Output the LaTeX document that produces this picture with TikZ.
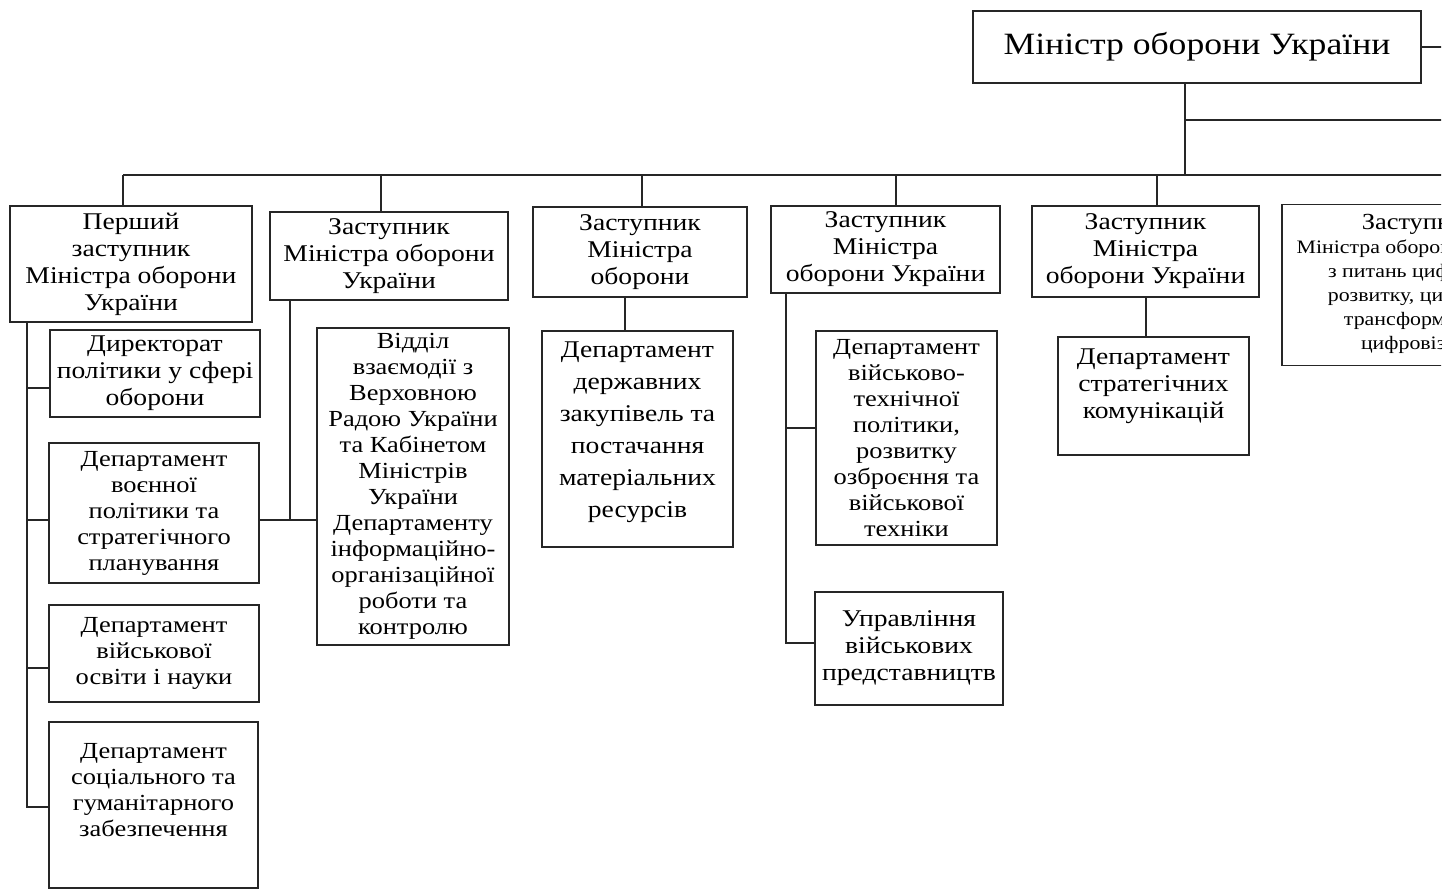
\documentclass[tikz,border=0pt]{standalone}
\usepackage{fontspec}
\setmainfont{Liberation Serif}[FakeStretch=1.15]
\newcommand\bxf{\fontsize{24}{27}\selectfont}
\newcommand\bxtight{\fontsize{23}{26}\selectfont}
\newcommand\bxwide{\fontsize{24}{32}\selectfont}
\newcommand\minf{\fontsize{31}{34}\selectfont}
\newcommand\smf{\fontsize{19}{24}\selectfont}
\begin{document}
\begin{tikzpicture}[x=1pt,y=-1pt,
  box/.style={draw=black!85, line width=1.3pt, inner sep=0pt, align=center, font=\bxf, text=black},
  txt/.style={inner sep=0pt, align=center, font=\bxf, text=black},
  link/.style={draw=black!85, line width=1.3pt}]
\useasboundingbox (0,0) rectangle (1455,890);
\clip (0,0) rectangle (1441,890);

% top level
\node[box, font=\minf, minimum width=448pt, minimum height=72pt] (min) at (1197,47) {Міністр оборони України};

% deputies
\node[box, minimum width=242pt, minimum height=116pt] (b1) at (131,264) {Перший\\заступник\\Міністра оборони\\України};
\node[box, minimum width=238pt, minimum height=88pt] (b2) at (389,256) {Заступник\\Міністра оборони\\України};
\node[box, minimum width=214pt, minimum height=90pt] (b3) at (640,252) {Заступник\\Міністра\\оборони};
\node[box, minimum width=229pt, minimum height=87pt] (b4) at (885.5,249.5) {Заступник\\Міністра\\оборони України};
\node[box, minimum width=227pt, minimum height=91pt] (b5) at (1145.5,251.5) {Заступник\\Міністра\\оборони України};
\node[box, minimum width=278pt, minimum height=161pt] (b6) at (1421,285) {};
\node[txt, font=\smf] (b6t) at (1420,284) {{\fontsize{23}{24}\selectfont Заступник}\\Міністра оборони України\\з питань цифрового\\розвитку, цифрових\\трансформацій і\\цифровізації};

% children of first deputy
\node[box, minimum width=210pt, minimum height=87pt] (c1a) at (155,373.5) {Директорат\\політики у сфері\\оборони};
\node[box, font=\bxtight, minimum width=210pt, minimum height=140pt] (c1b) at (154,513) {Департамент\\воєнної\\політики та\\стратегічного\\планування};
\node[box, font=\bxtight, minimum width=210pt, minimum height=97pt] (c1c) at (154,653.5) {Департамент\\військової\\освіти і науки};
\node[box, minimum width=209pt, minimum height=166pt] (c1d) at (153.5,805) {};
\node[txt, font=\bxtight] (c1dt) at (153.5,790) {Департамент\\соціального та\\гуманітарного\\забезпечення};

% child of second deputy
\node[box, font=\bxtight, minimum width=192pt, minimum height=317pt] (c2) at (413,486.5) {Відділ\\взаємодії з\\Верховною\\Радою України\\та Кабінетом\\Міністрів\\України\\Департаменту\\інформаційно-\\організаційної\\роботи та\\контролю};

% child of third deputy
\node[box, minimum width=191pt, minimum height=216pt] (c3) at (637.5,439) {};
\node[txt, font=\bxwide] (c3t) at (637.5,432) {Департамент\\державних\\закупівель та\\постачання\\матеріальних\\ресурсів};

% children of fourth deputy
\node[box, font=\bxtight, minimum width=181pt, minimum height=214pt] (c4a) at (906.5,438) {Департамент\\військово-\\технічної\\політики,\\розвитку\\озброєння та\\військової\\техніки};
\node[box, minimum width=188pt, minimum height=113pt] (c4b) at (909,648.5) {Управління\\військових\\представництв};

% child of fifth deputy
\node[box, minimum width=191pt, minimum height=118pt] (c5) at (1153.5,396) {};
\node[txt] (c5t) at (1153.5,386) {Департамент\\стратегічних\\комунікацій};

% connectors from the minister
\coordinate (mR) at (1460,47);
\coordinate (mtap) at (1185,175);
\coordinate (br) at (1185,120);
\coordinate (brR) at (1460,120);
\coordinate (busL) at (123,175);
\coordinate (busR) at (1460,175);
\draw[link] (min.east) -- (mR);
\draw[link] (min.south -| mtap) -- (mtap);
\draw[link] (br) -- (brR);
\draw[link] (busL) -- (busR);

% drops to deputies
\coordinate (d2) at (381,175);
\coordinate (d3) at (642,175);
\coordinate (d4) at (896,175);
\coordinate (d5) at (1157,175);
\draw[link] (busL) -- (busL |- b1.north);
\draw[link] (d2) -- (d2 |- b2.north);
\draw[link] (d3) -- (d3 |- b3.north);
\draw[link] (d4) -- (d4 |- b4.north);
\draw[link] (d5) -- (d5 |- b5.north);

% first deputy spine
\coordinate (sp) at (27,807);
\coordinate (t1a) at (27,388);
\coordinate (t1b) at (27,520);
\coordinate (t1c) at (27,668);
\draw[link] (b1.south -| sp) -- (sp) -- (sp -| c1d.west);
\draw[link] (t1a) -- (t1a -| c1a.west);
\draw[link] (t1b) -- (t1b -| c1b.west);
\draw[link] (t1c) -- (t1c -| c1c.west);

% second deputy
\coordinate (v2) at (290,520);
\draw[link] (b2.south -| v2) -- (v2);
\draw[link] (c1b.east |- v2) -- (c2.west |- v2);

% third deputy
\coordinate (v3) at (625,300);
\draw[link] (b3.south -| v3) -- (c3.north -| v3);

% fourth deputy
\coordinate (v4) at (786,643);
\coordinate (t4) at (786,428);
\draw[link] (b4.south -| v4) -- (v4) -- (v4 -| c4b.west);
\draw[link] (t4) -- (t4 -| c4a.west);

% fifth deputy
\coordinate (v5) at (1146,300);
\draw[link] (b5.south -| v5) -- (c5.north -| v5);
\end{tikzpicture}
\end{document}
